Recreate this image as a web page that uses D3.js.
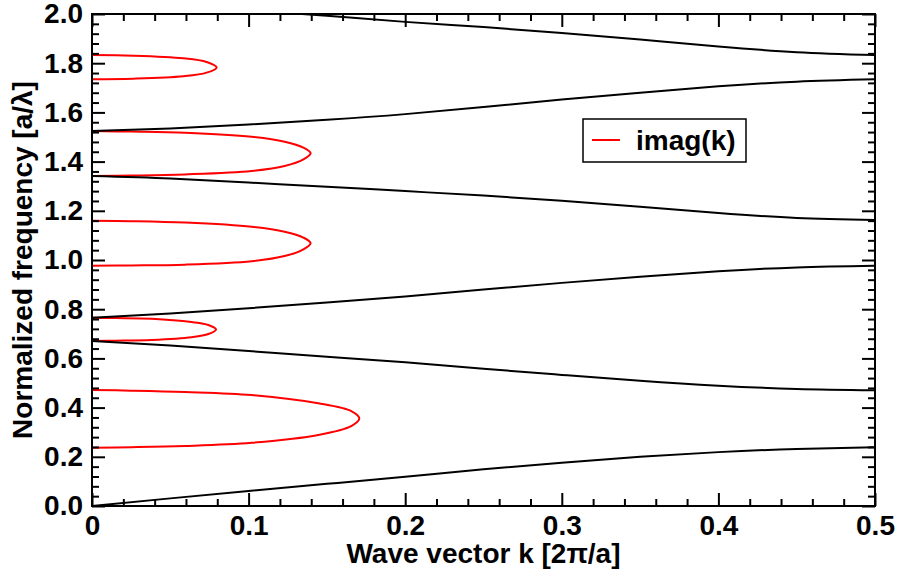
<!DOCTYPE html>
<html>
<head>
<meta charset="utf-8">
<script src="https://cdn.jsdelivr.net/npm/d3@7"></script>
<style>
  html, body { margin: 0; padding: 0; background: #fff; }
  svg { display: block; font-family: "Liberation Sans", Arial, Helvetica, sans-serif; font-weight: bold; }
</style>
</head>
<body>
<svg id="chart" width="898" height="577"></svg>
<script>
// ---- Data ----
const kGrid = [0, 0.05, 0.1, 0.15, 0.2, 0.25, 0.3, 0.35, 0.4, 0.45, 0.5];
const band1 = [0, 0.031, 0.061, 0.090, 0.119, 0.149, 0.176, 0.200, 0.219, 0.232, 0.2386];
const band2 = [0.671, 0.652, 0.630, 0.607, 0.584, 0.558, 0.533, 0.509, 0.489, 0.476, 0.4705];
const band3 = [0.765, 0.783, 0.804, 0.827, 0.852, 0.880, 0.907, 0.932, 0.954, 0.970, 0.977];
const band4 = [1.341, 1.331, 1.315, 1.298, 1.280, 1.262, 1.241, 1.216, 1.191, 1.171, 1.1626];
const band5 = [1.524, 1.535, 1.551, 1.570, 1.593, 1.622, 1.652, 1.680, 1.706, 1.725, 1.7345];
const band6 = [2.035, 2.030, 2.015, 1.993, 1.968, 1.947, 1.923, 1.896, 1.868, 1.845, 1.833];
const bands = [band1, band2, band3, band4, band5, band6];

// imag(k) loops inside the gaps: [imag k, frequency]
const gap1 = [[0,0.237],[0.025,0.239],[0.0594,0.244],[0.102,0.257],[0.1445,0.2886],[0.1658,0.326],[0.1707,0.356],[0.1658,0.385],[0.1445,0.4175],[0.102,0.451],[0.0594,0.4634],[0.025,0.469],[0,0.4715]];
const gap2 = [[0,0.671],[0.015,0.672],[0.0381,0.675],[0.0636,0.686],[0.0743,0.699],[0.0792,0.718],[0.0743,0.736],[0.0636,0.748],[0.0381,0.7615],[0.015,0.764],[0,0.765]];
const gap3 = [[0,0.977],[0.025,0.978],[0.0594,0.981],[0.102,0.995],[0.123,1.016],[0.135,1.0435],[0.1396,1.068],[0.135,1.091],[0.123,1.115],[0.102,1.135],[0.0594,1.152],[0.025,1.158],[0,1.160]];
const gap4 = [[0,1.341],[0.025,1.343],[0.0594,1.348],[0.102,1.362],[0.123,1.382],[0.135,1.409],[0.1396,1.434],[0.135,1.4566],[0.123,1.481],[0.102,1.501],[0.0594,1.5176],[0.025,1.522],[0,1.524]];
const gap5 = [[0,1.735],[0.0264,1.737],[0.0583,1.7467],[0.0732,1.7615],[0.0796,1.783],[0.0732,1.805],[0.0583,1.820],[0.0264,1.8306],[0,1.833]];
const gaps = [gap1, gap2, gap3, gap4, gap5];

const xMajor = [0, 0.1, 0.2, 0.3, 0.4, 0.5];
const yMajor = [0, 0.2, 0.4, 0.6, 0.8, 1.0, 1.2, 1.4, 1.6, 1.8, 2.0];
const xTitle = "Wave vector k [2\u03C0/a]";
const yTitle = "Normalized frequency [a/\u03BB]";
const legendLabel = "imag(k)";

// ---- Layout ----
const L = 92, R = 875, T = 14, B = 506;
const svg = d3.select("#chart");
const x = d3.scaleLinear().domain([0, 0.5]).range([L, R]);
const y = d3.scaleLinear().domain([0, 2]).range([B, T]);

const xMinor = d3.range(0, 0.5001, 0.02).map(v => +v.toFixed(2)).filter(v => !xMajor.some(m => Math.abs(m - v) < 1e-9));
const yMinor = d3.range(0, 2.0001, 0.04).map(v => +v.toFixed(2)).filter(v => !yMajor.some(m => Math.abs(m - v) < 1e-9));

svg.append("defs").append("clipPath").attr("id", "clip")
  .append("rect").attr("x", L).attr("y", T).attr("width", R - L).attr("height", B - T);

const plot = svg.append("g").attr("clip-path", "url(#clip)");

// red imag(k): zero along k=0 plus loops
const redLine = d3.line().x(d => x(d[0])).y(d => y(d[1])).curve(d3.curveCatmullRom.alpha(0.5));
plot.append("path")
  .attr("d", d3.line().x(d => x(d[0])).y(d => y(d[1]))([[0,0],[0,2]]))
  .attr("stroke", "#ff0000").attr("stroke-width", 2).attr("fill", "none");
gaps.forEach(g => {
  plot.append("path").attr("d", redLine(g))
    .attr("fill", "none").attr("stroke", "#ff0000").attr("stroke-width", 2);
});

// black bands
const bandLine = d3.line().x((d, i) => x(kGrid[i])).y(d => y(d)).curve(d3.curveNatural);
bands.forEach(b => {
  plot.append("path").attr("d", bandLine(b))
    .attr("fill", "none").attr("stroke", "#000").attr("stroke-width", 2);
});

// ---- Axes ----
const xFmt = d => d === 0 ? "0" : d3.format(".1f")(d);
const yFmt = d3.format(".1f");

function styleAxis(g) {
  g.selectAll(".domain").remove();
  g.selectAll(".tick line").attr("stroke", "#000").attr("stroke-width", 2);
  g.selectAll("text").attr("fill", "#000").attr("font-size", 28).attr("font-weight", "bold")
    .attr("font-family", "'Liberation Sans', Arial, sans-serif");
}

// bottom
svg.append("g").attr("transform", `translate(0,${B})`)
  .call(d3.axisBottom(x).tickValues(xMajor).tickFormat(xFmt).tickSizeInner(-13).tickSizeOuter(0).tickPadding(9))
  .call(styleAxis);
svg.append("g").attr("transform", `translate(0,${B})`)
  .call(d3.axisBottom(x).tickValues(xMinor).tickFormat("").tickSizeInner(-7).tickSizeOuter(0))
  .call(styleAxis);
// top
svg.append("g").attr("transform", `translate(0,${T})`)
  .call(d3.axisTop(x).tickValues(xMajor).tickFormat("").tickSizeInner(-13).tickSizeOuter(0))
  .call(styleAxis);
svg.append("g").attr("transform", `translate(0,${T})`)
  .call(d3.axisTop(x).tickValues(xMinor).tickFormat("").tickSizeInner(-7).tickSizeOuter(0))
  .call(styleAxis);
// left
svg.append("g").attr("transform", `translate(${L},0)`)
  .call(d3.axisLeft(y).tickValues(yMajor).tickFormat(yFmt).tickSizeInner(-13).tickSizeOuter(0).tickPadding(9))
  .call(styleAxis);
svg.append("g").attr("transform", `translate(${L},0)`)
  .call(d3.axisLeft(y).tickValues(yMinor).tickFormat("").tickSizeInner(-7).tickSizeOuter(0))
  .call(styleAxis);
// right
svg.append("g").attr("transform", `translate(${R},0)`)
  .call(d3.axisRight(y).tickValues(yMajor).tickFormat("").tickSizeInner(-13).tickSizeOuter(0))
  .call(styleAxis);
svg.append("g").attr("transform", `translate(${R},0)`)
  .call(d3.axisRight(y).tickValues(yMinor).tickFormat("").tickSizeInner(-7).tickSizeOuter(0))
  .call(styleAxis);

// frame
svg.append("rect").attr("x", L).attr("y", T).attr("width", R - L).attr("height", B - T)
  .attr("fill", "none").attr("stroke", "#000").attr("stroke-width", 2);

// titles
svg.append("text").attr("x", (L + R) / 2).attr("y", 563).attr("text-anchor", "middle")
  .attr("font-size", 28).attr("font-weight", "bold").attr("fill", "#000").text(xTitle);
svg.append("text").attr("transform", `translate(32,${(T + B) / 2}) rotate(-90)`)
  .attr("text-anchor", "middle").attr("font-size", 28).attr("font-weight", "bold").attr("fill", "#000").text(yTitle);

// legend
const lg = svg.append("g");
lg.append("rect").attr("x", 583).attr("y", 119).attr("width", 163).attr("height", 43)
  .attr("fill", "#fff").attr("stroke", "#000").attr("stroke-width", 1.5);
lg.append("line").attr("x1", 592).attr("x2", 620).attr("y1", 140).attr("y2", 140)
  .attr("stroke", "#ff0000").attr("stroke-width", 2);
lg.append("text").attr("x", 636).attr("y", 150).attr("font-size", 28).attr("font-weight", "bold")
  .attr("fill", "#000").text(legendLabel);
</script>
</body>
</html>
